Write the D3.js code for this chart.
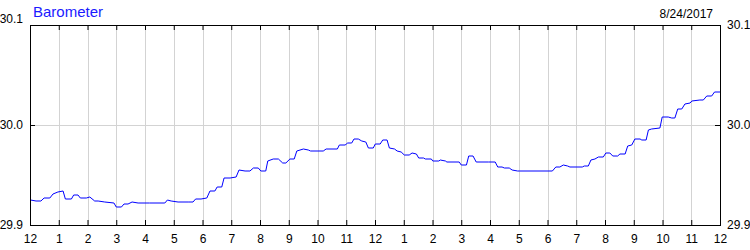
<!DOCTYPE html>
<html>
<head>
<meta charset="utf-8">
<script src="https://cdn.jsdelivr.net/npm/d3@7"></script>
<style>
  body { margin: 0; background: #fff; }
  svg { display: block; font-family: "Liberation Sans", Arial, sans-serif; }
</style>
</head>
<body>
<svg id="drawing_region"></svg>
<script>
// readings, hours since midnight / inHg
const hours = [
  0.02, 0.21, 0.38, 0.49, 0.69, 0.80, 0.97, 1.15, 1.23, 1.44, 1.52, 1.67, 1.75, 1.96, 2.08, 2.25,
  2.37, 2.60, 2.92, 3.00, 3.18, 3.27, 3.41, 3.55, 3.76, 4.16, 4.69, 4.78, 4.91, 5.15, 5.50, 5.67,
  5.76, 5.95, 6.15, 6.26, 6.43, 6.51, 6.67, 6.75, 6.96, 7.17, 7.27, 7.48, 7.65, 7.77, 7.94, 8.03,
  8.20, 8.27, 8.46, 8.64, 8.79, 8.90, 9.04, 9.19, 9.28, 9.51, 9.68, 9.76, 10.20, 10.30, 10.69, 10.76,
  10.96, 11.05, 11.19, 11.27, 11.42, 11.54, 11.68, 11.77, 11.94, 12.01, 12.18, 12.27, 12.42, 12.50, 12.68, 12.77,
  12.91, 13.02, 13.19, 13.29, 13.44, 13.52, 13.69, 13.75, 13.96, 14.01, 14.22, 14.27, 14.45, 14.50, 14.93, 15.00,
  15.18, 15.26, 15.41, 15.52, 15.95, 16.18, 16.27, 16.42, 16.50, 16.67, 16.77, 16.96, 17.02, 18.17, 18.29, 18.43,
  18.55, 18.70, 18.78, 19.21, 19.28, 19.42, 19.51, 19.65, 19.77, 19.94, 20.03, 20.17, 20.27, 20.44, 20.52, 20.70,
  20.79, 20.93, 21.04, 21.22, 21.28, 21.43, 21.51, 21.62, 21.91, 21.99, 22.20, 22.32, 22.43, 22.53, 22.67, 22.78,
  22.96, 23.02, 23.30, 23.42, 23.54, 23.71, 23.81, 24.00
];
const pressure = [
  29.925, 29.924, 29.924, 29.927, 29.927, 29.931, 29.933, 29.934, 29.926, 29.926, 29.930, 29.930, 29.927, 29.927, 29.928, 29.924,
  29.924, 29.923, 29.922, 29.918, 29.918, 29.921, 29.921, 29.923, 29.922, 29.922, 29.922, 29.925, 29.924, 29.923, 29.923, 29.923,
  29.926, 29.926, 29.927, 29.934, 29.934, 29.938, 29.938, 29.947, 29.947, 29.948, 29.955, 29.954, 29.954, 29.957, 29.957, 29.954,
  29.954, 29.964, 29.966, 29.966, 29.962, 29.962, 29.966, 29.966, 29.974, 29.976, 29.975, 29.974, 29.974, 29.976, 29.976, 29.980,
  29.980, 29.982, 29.982, 29.986, 29.986, 29.984, 29.983, 29.977, 29.977, 29.981, 29.981, 29.985, 29.985, 29.977, 29.976, 29.974,
  29.973, 29.970, 29.970, 29.972, 29.971, 29.967, 29.967, 29.966, 29.966, 29.964, 29.964, 29.965, 29.964, 29.963, 29.963, 29.960,
  29.960, 29.969, 29.969, 29.963, 29.963, 29.963, 29.958, 29.958, 29.957, 29.957, 29.955, 29.954, 29.954, 29.954, 29.958, 29.958,
  29.960, 29.959, 29.958, 29.958, 29.959, 29.959, 29.965, 29.966, 29.968, 29.968, 29.972, 29.972, 29.969, 29.969, 29.971, 29.971,
  29.979, 29.980, 29.986, 29.986, 29.985, 29.985, 29.995, 29.996, 29.997, 30.008, 30.008, 30.007, 30.007, 30.016, 30.016, 30.021,
  30.022, 30.024, 30.025, 30.025, 30.029, 30.029, 30.033, 30.033
];

const hourLabels = ['12','1','2','3','4','5','6','7','8','9','10','11',
                    '12','1','2','3','4','5','6','7','8','9','10','11','12'];
const yTicks = [29.9, 30.0, 30.1];
const title = 'Barometer';
const dateLabel = '8/24/2017';

const data = hours.map( (h, i) => ({ x: h, y: pressure[i] }) );

const config = {
    width: 750,
    height: 250,
    margin: {top:25, right:30, bottom:25, left:30}
};

const svg = d3.select('#drawing_region')
    .attr('width', config.width)
    .attr('height', config.height);

const inner_width = config.width - config.margin.left - config.margin.right;
const inner_height = config.height - config.margin.top - config.margin.bottom;

const chart = svg.append('g')
    .attr('transform', `translate(${config.margin.left}, ${config.margin.top})`);

const xscale = d3.scaleLinear()
    .domain([0, 24])
    .range([0, inner_width]);

const yscale = d3.scaleLinear()
    .domain([29.9, 30.1])
    .range([inner_height, 0]);

// grid
chart.append('g')
    .selectAll('line')
    .data(d3.range(1, 24))
    .join('line')
    .attr('x1', d => Math.round(xscale(d)) + 0.5)
    .attr('x2', d => Math.round(xscale(d)) + 0.5)
    .attr('y1', 0)
    .attr('y2', inner_height)
    .attr('stroke', '#d3d3d3');

chart.append('line')
    .attr('x1', 0)
    .attr('x2', inner_width)
    .attr('y1', yscale(30.0) + 0.5)
    .attr('y2', yscale(30.0) + 0.5)
    .attr('stroke', '#d3d3d3');

// line
chart.append('path')
    .datum(data)
    .attr('d', d3.line()
        .x( d => xscale(d.x) )
        .y( d => yscale(d.y) ))
    .attr('stroke', '#0000ff')
    .attr('stroke-width', 1)
    .attr('fill', 'none');

// axes
const fmt = d3.format('.1f');
const xaxis = d3.axisBottom(xscale)
    .tickValues(d3.range(0, 25))
    .tickFormat(d => hourLabels[d])
    .tickSize(-5)
    .tickPadding(9);
const xaxisTop = d3.axisTop(xscale)
    .tickValues(d3.range(0, 25))
    .tickFormat('')
    .tickSize(-5);
const yaxisL = d3.axisLeft(yscale)
    .tickValues(yTicks)
    .tickFormat(fmt)
    .tickSize(-5)
    .tickPadding(7);
const yaxisR = d3.axisRight(yscale)
    .tickValues(yTicks)
    .tickFormat(fmt)
    .tickSize(-5)
    .tickPadding(7);

const groups = [
    chart.append('g').attr('transform', `translate(0, ${inner_height})`).call(xaxis),
    chart.append('g').call(xaxisTop),
    chart.append('g').call(yaxisL),
    chart.append('g').attr('transform', `translate(${inner_width}, 0)`).call(yaxisR)
];
groups.forEach( g => {
    g.select('.domain').remove();
    g.selectAll('text')
        .attr('font-family', '"Liberation Sans", Arial, sans-serif')
        .attr('font-size', 12)
        .attr('fill', '#000');
    g.selectAll('line').attr('stroke', '#000');
});

// top-left label sits a bit higher than the tick
groups[2].selectAll('.tick')
    .filter(d => d === 30.1)
    .select('text')
    .attr('dy', '-0.25em');

// frame
chart.append('rect')
    .attr('x', 0.5)
    .attr('y', 0.5)
    .attr('width', inner_width)
    .attr('height', inner_height)
    .attr('fill', 'none')
    .attr('stroke', '#000');

// titles
svg.append('text')
    .attr('x', 33)
    .attr('y', 17)
    .attr('font-size', 15)
    .attr('fill', '#1a1aff')
    .text(title);

svg.append('text')
    .attr('x', 713)
    .attr('y', 18)
    .attr('text-anchor', 'end')
    .attr('font-size', 12)
    .attr('fill', '#000')
    .text(dateLabel);
</script>
</body>
</html>
